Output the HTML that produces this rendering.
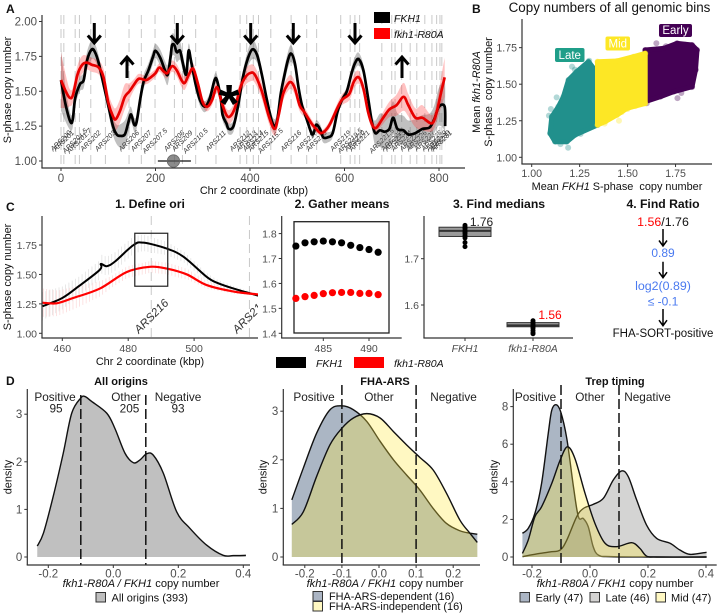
<!DOCTYPE html>
<html>
<head>
<meta charset="utf-8">
<title>Chromosome 2 copy number figure</title>
<style>
html,body{margin:0;padding:0;background:#fff;width:720px;height:615px;overflow:hidden}
svg{display:block;filter:blur(0.35px)}
text{font-family:"Liberation Sans",sans-serif;fill:#111}
.b{font-weight:bold}
.i{font-style:italic}
.t{font-size:12.2px;font-weight:bold;text-anchor:middle}
.td{font-size:11px;font-weight:bold;text-anchor:middle}
.at{font-size:10.9px;text-anchor:middle}
.dt{font-size:11.1px;text-anchor:middle}
.n{font-size:11.8px;text-anchor:middle;fill:#222}
.lg{font-size:11px}
.lg2{font-size:10.9px}
.panel{font-size:12px;font-weight:bold}
</style>
</head>
<body>
<svg id="fig" xmlns="http://www.w3.org/2000/svg" width="720" height="615" viewBox="0 0 720 615">
<rect x="0" y="0" width="720" height="615" fill="#fff"/>
<defs>
<clipPath id="clipC1"><rect x="42" y="210" width="216" height="128"/></clipPath>
</defs>

<g id="panelA"></g>
<g id="panelB"></g>
<g id="panelC1"></g>
<g id="panelC2"></g>
<g id="panelC3"></g>
<g id="panelD1"></g>
<g id="panelD2"></g>
<g id="panelD3"></g>

<text class="panel" x="6" y="13">A</text>
<text class="panel" x="472" y="13">B</text>
<text class="panel" x="6" y="211">C</text>
<text class="panel" x="6" y="385">D</text>

<!-- Panel A static -->
<text class="at" x="254" y="194">Chr 2 coordinate (kbp)</text>
<text class="at" transform="translate(11,90) rotate(-90)">S-phase copy number</text>
<rect x="374" y="12" width="16" height="11" fill="#000"/>
<rect x="374" y="28" width="16" height="11" fill="#f00"/>
<text class="i" x="394" y="22" font-size="10.5">FKH1</text>
<text class="i" x="394" y="38" font-size="10.5">fkh1-R80A</text>

<!-- Panel B static -->
<text x="609.500" y="12" font-size="13.4" text-anchor="middle">Copy numbers of all genomic bins</text>
<text class="at" x="617" y="190">Mean <tspan class="i">FKH1</tspan> S-phase&#160; copy number</text>
<text class="at" transform="translate(480,92) rotate(-90)">Mean <tspan class="i">fkh1-R80A</tspan></text>
<text class="at" transform="translate(492,92) rotate(-90)">S-phase&#160; copy number</text>

<!-- Panel C static -->
<text class="t" x="150" y="208">1. Define ori</text>
<text class="t" x="342" y="208">2. Gather means</text>
<text class="t" x="499" y="208">3. Find medians</text>
<text class="t" x="663" y="208">4. Find Ratio</text>
<text class="at" x="150" y="365">Chr 2 coordinate (kbp)</text>
<text class="at" transform="translate(11,277) rotate(-90)">S-phase copy number</text>
<rect x="276" y="357" width="30" height="11" fill="#000"/>
<rect x="354" y="357" width="30" height="11" fill="#f00"/>
<text class="i" x="316" y="367" font-size="10.5">FKH1</text>
<text class="i" x="394" y="367" font-size="10.5">fkh1-R80A</text>
<text x="481.5" y="226" font-size="12" style="fill:#222" text-anchor="middle">1.76</text>
<text x="550" y="319" font-size="12" style="fill:#f00" text-anchor="middle">1.56</text>
<text x="663" y="226" font-size="12.4" text-anchor="middle"><tspan style="fill:#f00">1.56</tspan><tspan>/1.76</tspan></text>
<text x="663" y="257" font-size="12" text-anchor="middle" style="fill:#4a7af0">0.89</text>
<text x="663" y="290" font-size="12.4" text-anchor="middle" style="fill:#4a7af0">log2(0.89)</text>
<text x="663" y="305.500" font-size="12" text-anchor="middle" style="fill:#4a7af0">≤ -0.1</text>
<text x="663" y="337" font-size="11.5" text-anchor="middle">FHA-SORT-positive</text>

<!-- Panel D static -->
<text class="td" x="121" y="385">All origins</text>
<text class="td" x="385" y="385">FHA-ARS</text>
<text class="td" x="615" y="385">Trep timing</text>

<text class="n" x="55" y="401">Positive</text>
<text class="n" x="56" y="412.500">95</text>
<text class="n" x="126" y="401">Other</text>
<text class="n" x="129.500" y="412.500">205</text>
<text class="n" x="178" y="401">Negative</text>
<text class="n" x="178" y="412.500">93</text>

<text class="n" x="314" y="401">Positive</text>
<text class="n" x="379" y="401">Other</text>
<text class="n" x="453.500" y="401">Negative</text>

<text class="n" x="535.500" y="401">Positive</text>
<text class="n" x="590" y="401">Other</text>
<text class="n" x="647.500" y="401">Negative</text>

<text class="dt" x="141" y="587"><tspan class="i">fkh1-R80A / FKH1</tspan> copy number</text>
<text class="dt" x="385" y="587"><tspan class="i">fkh1-R80A / FKH1</tspan> copy number</text>
<text class="dt" x="615" y="587"><tspan class="i">fkh1-R80A / FKH1</tspan> copy number</text>
<text class="at" transform="translate(11.500,477) rotate(-90)">density</text>
<text class="at" transform="translate(266.500,477) rotate(-90)">density</text>
<text class="at" transform="translate(497.500,477) rotate(-90)">density</text>

<rect x="96" y="592.500" width="9.500" height="9.500" fill="#bebebe" stroke="#333"/>
<text class="lg" x="111.500" y="601.500">All origins (393)</text>

<rect x="313" y="591.500" width="9.500" height="9.500" fill="#abb5c4" stroke="#333"/>
<rect x="313" y="601.500" width="9.500" height="9.500" fill="#fff8c2" stroke="#333"/>
<text class="lg2" x="329" y="600">FHA-ARS-dependent (16)</text>
<text class="lg2" x="329" y="610">FHA-ARS-independent (16)</text>

<rect x="520" y="592.500" width="9.500" height="9.500" fill="#abb5c4" stroke="#333"/>
<rect x="590" y="592.500" width="9.500" height="9.500" fill="#d4d3d2" stroke="#333"/>
<rect x="656" y="592.500" width="9.500" height="9.500" fill="#fff8c2" stroke="#333"/>
<text class="lg" x="535.500" y="601.500">Early (47)</text>
<text class="lg" x="605.500" y="601.500">Late (46)</text>
<text class="lg" x="671" y="601.500">Mid (47)</text>
</svg>

<script>
// ---------- Panel A data ----------
const aXTicks = [0, 200, 400, 600, 800];
const aYTicks = [1.00, 1.25, 1.50, 1.75, 2.00];
const arsNames = ["ARS200","ARS201","ARS201.5","ARS201.7","ARS202","ARS203","ARS206","ARS207","ARS207.5","ARS208","ARS209","ARS210.5","ARS211","ARS212","ARS213","ARS214","ARS215","ARS215.5","ARS216","ARS217","ARS218","ARS219","ARS219.5","ARS220","ARS221","ARS221.5","ARS222","ARS223","ARS224","ARS225","ARS226","ARS227","ARS228","ARS229","ARS230","ARS231"];
const arsKb = [0,6,30,39,63,94,144,170,199,240,257,285,328,379,393,407,418,444,487,520,541,592,612,622,632,679,700,707,721,739,753,770,785,795,802,806];
const blackKb = [0,10,20,25,30,40,48,55,65,72,80,90,100,110,118,125,135,142,147,150,155,160,168,175,185,195,200,210,220,226,232,235,240,245,252,258,265,270,275,285,295,305,315,325,330,338,342,350,355,365,375,385,395,405,415,425,435,445,452,458,465,472,480,487,495,503,510,520,530,535,540,548,555,565,575,585,595,605,615,622,630,640,650,658,665,675,685,695,703,712,725,735,750,765,780,790,800,812,813];
const blackCN = [1.58,1.40,1.28,1.30,1.45,1.55,1.58,1.72,1.80,1.78,1.70,1.55,1.40,1.25,1.19,1.18,1.19,1.27,1.33,1.32,1.26,1.28,1.45,1.57,1.65,1.75,1.79,1.74,1.65,1.62,1.75,1.83,1.83,1.78,1.79,1.70,1.62,1.79,1.72,1.55,1.43,1.39,1.45,1.58,1.58,1.45,1.33,1.27,1.23,1.25,1.40,1.60,1.73,1.80,1.76,1.62,1.45,1.30,1.25,1.30,1.48,1.60,1.72,1.77,1.70,1.52,1.40,1.30,1.20,1.20,1.26,1.23,1.17,1.17,1.20,1.35,1.44,1.50,1.63,1.70,1.73,1.65,1.45,1.28,1.20,1.22,1.21,1.23,1.31,1.23,1.22,1.19,1.20,1.23,1.24,1.30,1.39,1.39,1.25];
const redKb = [0,10,18,25,35,45,55,65,80,90,100,110,116,125,135,145,155,165,180,190,200,208,218,225,235,245,255,262,272,280,290,300,310,320,330,340,350,358,368,380,390,400,410,425,440,452,460,470,480,487,495,505,515,530,540,550,560,570,585,595,610,620,630,640,650,660,668,680,695,710,725,735,750,765,785,795,805,812];
const redCN = [1.58,1.50,1.455,1.47,1.62,1.69,1.705,1.69,1.67,1.60,1.42,1.32,1.30,1.36,1.46,1.50,1.55,1.59,1.58,1.60,1.63,1.67,1.64,1.63,1.68,1.65,1.58,1.56,1.63,1.66,1.55,1.42,1.39,1.44,1.53,1.42,1.33,1.32,1.38,1.53,1.60,1.63,1.62,1.50,1.32,1.23,1.32,1.48,1.55,1.565,1.52,1.40,1.35,1.27,1.23,1.20,1.22,1.27,1.38,1.44,1.48,1.57,1.60,1.52,1.35,1.25,1.24,1.30,1.37,1.40,1.46,1.40,1.31,1.31,1.27,1.35,1.50,1.60];
const blackBandKb = [0,10,20,40,65,90,118,135,150,170,200,235,270,300,330,355,380,405,430,452,487,510,535,560,590,625,655,670,700,730,760,790,812];
const blackBandHalf = [.22,.12,.06,.05,.07,.04,.07,.10,.05,.05,.05,.08,.05,.04,.04,.04,.04,.07,.03,.05,.06,.02,.03,.04,.02,.05,.03,.12,.12,.10,.10,.10,.18];
const redBandKb = [0,10,20,40,55,80,116,135,150,180,210,260,300,358,400,452,487,550,620,668,700,725,745,765,790,812];
const redBandHalf = [.20,.12,.05,.07,.05,.05,.08,.09,.04,.03,.03,.05,.03,.05,.06,.05,.05,.02,.05,.03,.06,.10,.06,.09,.05,.14];
const cenStart = 205, cenEnd = 275, cenMid = 238;

// ---------- Panel B data ----------
const bXTicks = [1.00, 1.25, 1.50, 1.75];
const bYTicks = [1.00, 1.25, 1.50, 1.75];
const lateX = [1.296,1.235,1.192,1.166,1.139,1.105,1.096,1.122,1.183,1.226,1.343,1.345,1.343];
const lateY = [1.654,1.586,1.529,1.415,1.346,1.278,1.164,1.107,1.107,1.153,1.221,1.392,1.574];
const midX = [1.343,1.444,1.531,1.592,1.592,1.497,1.444,1.383,1.343];
const midY = [1.654,1.659,1.688,1.711,1.369,1.335,1.289,1.244,1.221];
const earlyX = [1.592,1.688,1.758,1.836,1.862,1.854,1.836,1.740,1.671,1.592];
const earlyY = [1.734,1.745,1.780,1.768,1.734,1.597,1.483,1.449,1.415,1.381];
const lateOutX = [1.09,1.13,1.185,1.19,1.30,1.255,1.15,1.12,1.10,1.225,1.21];
const lateOutY = [1.285,1.41,1.122,1.065,1.66,1.16,1.09,1.13,1.33,1.60,1.62];
const midOutX = [1.38,1.455,1.42,1.50,1.54,1.47,1.40];
const midOutY = [1.23,1.25,1.29,1.33,1.35,1.31,1.27];
const earlyOutX = [1.835,1.76,1.855,1.65,1.70,1.62,1.80,1.72,1.61,1.78,1.64,1.60,1.86];
const earlyOutY = [1.48,1.405,1.60,1.78,1.76,1.40,1.77,1.47,1.73,1.44,1.41,1.37,1.73];

// ---------- Panel C data ----------
const c1XTicks = [460, 480, 500];
const c1YTicks = [1.00, 1.25, 1.50, 1.75];
const c1BlackKb = [454,460,465,471.4,471.7,473.5,476,481.6,484.6,491.7,496.8,503.8,506.9,512,519.5];
const c1BlackCN = [1.23,1.30,1.40,1.54,1.59,1.57,1.61,1.75,1.77,1.72,1.65,1.48,1.43,1.38,1.32];
const c1RedKb = [454,458.3,463.3,471.4,479.5,486.6,491.7,497.8,503.8,512,519.5];
const c1RedCN = [1.26,1.255,1.30,1.38,1.52,1.565,1.55,1.50,1.41,1.355,1.33];
const c1SdKb = [454,465,475,485,495,505,519.5];
const c1BlackSd = [.12,.08,.08,.07,.05,.03,.01];
const c1RedSd = [.12,.09,.05,.05,.05,.03,.01];
const c1Ars = ["ARS216","ARS217"];
const c1ArsKb = [487,516.8];
const c1Window = [482, 492];
const c1WindowCN = [1.40, 1.85];

const c2XTicks = [485, 490];
const c2YTicks = [1.4, 1.5, 1.6, 1.7, 1.8];
const c2Kb = [482,483,484,485,486,487,488,489,490,491];
const c2Black = [1.75,1.763,1.767,1.77,1.767,1.763,1.753,1.744,1.736,1.725];
const c2Red = [1.54,1.547,1.552,1.559,1.563,1.564,1.564,1.56,1.56,1.555];

const c3YTicks = [1.6, 1.7];
const c3Groups = ["FKH1", "fkh1-R80A"];
const c3BoxBlack = [1.748, 1.76, 1.768];
const c3BoxRed = [1.553, 1.556, 1.562];
const c3PointsBlack = [1.772,1.768,1.765,1.76,1.757,1.755,1.75,1.745,1.735,1.726];
const c3PointsRed = [1.566,1.562,1.56,1.556,1.553,1.55,1.545,1.54,1.538];

// ---------- Panel D data ----------
const d1XTicks = [-0.2, 0.0, 0.2, 0.4];
const d1YTicks = [0, 1, 2, 3];
const d1V = [-.234,-.215,-.185,-.154,-.128,-.1,-.087,-.067,-.02,.005,.036,.062,.082,.103,.123,.154,.195,.236,.287,.338,.369,.408];
const d1D = [.23,.5,1.27,2.18,3.02,3.34,3.37,3.27,3.02,2.7,2.18,1.98,2.04,2.17,2.14,1.76,.95,.6,.25,.035,.03,.035];

const d2XTicks = [-0.2, -0.1, 0.0, 0.1, 0.2];
const d2YTicks = [0, 1, 2, 3];
const d2V = [-.235,-.204,-.168,-.132,-.1,-.069,-.033,.003,.039,.074,.11,.146,.182,.218,.245,.265];
const d2Dep = [1.175,1.83,2.55,3.03,3.11,3.03,2.79,2.38,2,1.69,1.38,1,.69,.54,.49,.47];
const d2Ind = [.67,.93,1.66,2.31,2.65,2.86,2.95,2.86,2.58,2.31,2.05,1.79,1.31,.76,.49,.30];

const d3XTicks = [-0.2, 0.0, 0.2, 0.4];
const d3YTicks = [0, 2, 4, 6, 8];
const d3EarlyV = [-.233,-.213,-.19,-.167,-.144,-.132,-.117,-.101,-.08,-.057,-.04,-.023,-.006,.011,.029,.069,.2,.402];
const d3EarlyD = [1.26,1.52,2.32,3.91,6.57,7.8,8.1,7.72,6.3,3.73,2.14,2.05,1.61,.55,.1,.02,0,0];
const d3LateV = [-.233,-.184,-.138,-.103,-.08,-.046,-.023,.011,.046,.08,.109,.132,.161,.195,.23,.276,.31,.345,.402];
const d3LateD = [.02,.16,.27,.37,.9,2.14,2.58,2.8,3.12,4.09,4.58,4.27,3.03,1.7,.99,.73,.37,.14,.25];
const d3MidV = [-.233,-.213,-.19,-.167,-.132,-.103,-.078,-.052,-.017,.017,.052,.092,.144,.172,.195,.23,.402];
const d3MidD = [.19,.9,2.14,2.67,3.91,5.15,5.86,5.24,3.38,1.79,.73,.55,.76,.46,.05,0,0];

const classCuts = [-0.1, 0.1];

// ---------- Helpers ----------
const NS = 'http://www.w3.org/2000/svg';
function mk(parent, tag, attrs, text) {
  const e = document.createElementNS(NS, tag);
  for (const k in attrs) e.setAttribute(k, attrs[k]);
  if (text !== undefined) e.textContent = text;
  parent.appendChild(e);
  return e;
}
function smooth(pts) {
  let d = 'M' + pts[0][0].toFixed(2) + ' ' + pts[0][1].toFixed(2);
  d += smoothTail(pts);
  return d;
}
function smoothTail(pts) {
  let d = '';
  for (let i = 0; i < pts.length - 1; i++) {
    const p0 = pts[Math.max(0, i - 1)], p1 = pts[i], p2 = pts[i + 1], p3 = pts[Math.min(pts.length - 1, i + 2)];
    const c1x = p1[0] + (p2[0] - p0[0]) / 6, c1y = p1[1] + (p2[1] - p0[1]) / 6;
    const c2x = p2[0] - (p3[0] - p1[0]) / 6, c2y = p2[1] - (p3[1] - p1[1]) / 6;
    d += 'C' + c1x.toFixed(2) + ' ' + c1y.toFixed(2) + ' ' + c2x.toFixed(2) + ' ' + c2y.toFixed(2) + ' ' + p2[0].toFixed(2) + ' ' + p2[1].toFixed(2);
  }
  return d;
}
function lerp(xs, ys, x) {
  if (x <= xs[0]) return ys[0];
  for (let i = 1; i < xs.length; i++) {
    if (x <= xs[i]) return ys[i - 1] + (ys[i] - ys[i - 1]) * (x - xs[i - 1]) / (xs[i] - xs[i - 1]);
  }
  return ys[ys.length - 1];
}
function drawAxes(g, c) {
  const yAxis = mk(g, 'line', {x1: c.left, x2: c.left, y1: c.top, y2: c.bottom, stroke: '#333', 'stroke-width': 1.2});
  
  
  const xAxis = mk(g, 'line', {x1: c.left - .6, x2: c.right, y1: c.bottom, y2: c.bottom, stroke: '#333', 'stroke-width': 1.2});
  
  
  c.xTicks.forEach(function (v) {
    const x = c.sx(v);
    const tk = mk(g, 'line', {x1: x, x2: x, y1: c.bottom, y2: c.bottom + 3, stroke: '#333', 'stroke-width': 1});
    
    
    const lb = mk(g, 'text', {x: x, y: c.bottom + c.xOff, 'text-anchor': 'middle', 'font-size': c.fs, style: 'fill:#4d4d4d'}, v.toFixed(c.xDec));
    
    
  });
  c.yTicks.forEach(function (v) {
    const y = c.sy(v);
    const tk = mk(g, 'line', {x1: c.left - 3, x2: c.left, y1: y, y2: y, stroke: '#333', 'stroke-width': 1});
    
    
    const lb = mk(g, 'text', {x: c.left - 5, y: y + 4, 'text-anchor': 'end', 'font-size': c.fs, style: 'fill:#4d4d4d'}, v.toFixed(c.yDec));
    
    
  });
}
function arrowPath(x, y1, y2, h, hh) {
  const dir = y2 > y1 ? -1 : 1;
  return 'M' + x + ' ' + y1 + 'L' + x + ' ' + y2 + 'M' + (x - h) + ' ' + (y2 + dir * hh) + 'L' + x + ' ' + y2 + 'L' + (x + h) + ' ' + (y2 + dir * hh);
}

// ---------- Panel A ----------
(function () {
  const g = document.getElementById('panelA');
  const sx = function (k) { return 61 + 0.4725 * k; };
  const sy = function (v) { return 161 - 139.5 * (v - 1); };
  arsKb.forEach(function (k, i) {
    const ln = mk(g, 'line', {x1: sx(k), x2: sx(k), y1: 15, y2: 168, stroke: '#c9c9c9', 'stroke-width': 1, 'stroke-dasharray': '9 5'});
    
    
    const lb = mk(g, 'text', {x: sx(k), y: 143, 'text-anchor': 'middle', 'font-size': 7, class: 'i', style: 'fill:#333', transform: 'rotate(-45 ' + sx(k) + ' 141)'}, arsNames[i]);
    
    
  });
  drawAxes(g, {left: 42, right: 465, top: 15, bottom: 168, sx: sx, sy: sy, xTicks: aXTicks, yTicks: aYTicks, xOff: 14, fs: 11.5, xDec: 0, yDec: 2});

  function band(xs, ys, bx, bh, fill, name) {
    const up = xs.map(function (k, i) { return [sx(k), sy(ys[i] + lerp(bx, bh, k))]; });
    const lo = xs.map(function (k, i) { return [sx(k), sy(ys[i] - lerp(bx, bh, k))]; }).reverse();
    const b = mk(g, 'path', {d: smooth(up) + 'L' + lo[0][0].toFixed(2) + ' ' + lo[0][1].toFixed(2) + smoothTail(lo) + 'Z', fill: fill});
    
    
  }
  band(blackKb, blackCN, blackBandKb, blackBandHalf, 'rgba(90,90,90,.38)', 'fkh1-error-band');
  band(redKb, redCN, redBandKb, redBandHalf, 'rgba(255,50,50,.3)', 'fkh1-r80a-error-band');
  const bl = mk(g, 'path', {d: smooth(blackKb.map(function (k, i) { return [sx(k), sy(blackCN[i])]; })), fill: 'none', stroke: '#000', 'stroke-width': 2.7, 'stroke-linejoin': 'round'});
  
  
  const rd = mk(g, 'path', {d: smooth(redKb.map(function (k, i) { return [sx(k), sy(redCN[i])]; })), fill: 'none', stroke: '#e80000', 'stroke-width': 2.7, 'stroke-linejoin': 'round'});
  
  

  const cl = mk(g, 'line', {x1: sx(cenStart), x2: sx(cenEnd), y1: sy(1), y2: sy(1), stroke: '#111', 'stroke-width': 1.2});
  
  
  const cc = mk(g, 'circle', {cx: sx(cenMid), cy: sy(1), r: 6.2, fill: 'rgba(90,90,90,.7)', stroke: '#666', 'stroke-width': .8});
  
  

  [94.3, 177.3, 250.7, 293.3, 355].forEach(function (x) {
    const a = mk(g, 'path', {d: arrowPath(x, 23, 43, 6.5, 7.5), fill: 'none', stroke: '#000', 'stroke-width': 3});
    
    
  });
  [127, 402].forEach(function (x) {
    const a = mk(g, 'path', {d: arrowPath(x, 78, 57, 6.5, 7.5), fill: 'none', stroke: '#000', 'stroke-width': 3});
    
    
  });
  const st = mk(g, 'text', {x: 229, y: 122, 'text-anchor': 'middle', 'font-size': 54, class: 'b', style: 'fill:#000'}, '*');
  
  
})();

// ---------- Panel B ----------
(function () {
  const g = document.getElementById('panelB');
  const sx = function (v) { return 531.7 + 191.8 * (v - 1); };
  const sy = function (v) { return 157.3 - 146.2 * (v - 1); };
  drawAxes(g, {left: 522, right: 712, top: 19, bottom: 164, sx: sx, sy: sy, xTicks: bXTicks, yTicks: bYTicks, xOff: 13, fs: 10.6, xDec: 2, yDec: 2});
  function cloud(xs, ys, ox, oy, color, name) {
    const pts = xs.map(function (x, i) { return sx(x).toFixed(1) + ',' + sy(ys[i]).toFixed(1); }).join(' ');
    xs.forEach(function (x, i) {
      const c = mk(g, 'circle', {cx: sx(x), cy: sy(ys[i]), r: 3, fill: color, 'fill-opacity': .45});
      
      
    });
    ox.forEach(function (x, i) {
      const c = mk(g, 'circle', {cx: sx(x), cy: sy(oy[i]), r: 3, fill: color, 'fill-opacity': .35});
      
      
    });
    const p = mk(g, 'polygon', {points: pts, fill: color, stroke: color, 'stroke-width': 5, 'stroke-linejoin': 'round'});
    
    
  }
  cloud(lateX, lateY, lateOutX, lateOutY, '#21908c', 'late-bins-cloud');
  cloud(earlyX, earlyY, earlyOutX, earlyOutY, '#440154', 'early-bins-cloud');
  cloud(midX, midY, midOutX, midOutY, '#fde725', 'mid-bins-cloud');
  [['Late', 555, 48, 29.5, 14, '#1f9e89', 'late-label'], ['Mid', 605.5, 36.5, 24.5, 14, '#fde725', 'mid-label'], ['Early', 659, 24, 33, 13, '#440154', 'early-label']].forEach(function (l) {
    const r = mk(g, 'rect', {x: l[1], y: l[2], width: l[3], height: l[4], rx: 2, fill: l[5]});
    
    
    const t = mk(g, 'text', {x: l[1] + l[3] / 2, y: l[2] + l[4] - 3, 'text-anchor': 'middle', 'font-size': 11.5, style: 'fill:#fff'}, l[0]);
    
    
  });
})();

// ---------- Panel C1 ----------
(function () {
  const g = document.getElementById('panelC1');
  const sx = function (k) { return 62.3 + 3.295 * (k - 460); };
  const sy = function (v) { return 333.3 - 117.7 * (v - 1); };
  const clip = mk(g, 'g', {'clip-path': 'url(#clipC1)'});
  
  
  c1ArsKb.forEach(function (k, i) {
    const ln = mk(clip, 'line', {x1: sx(k), x2: sx(k), y1: 216, y2: 338, stroke: '#c9c9c9', 'stroke-width': 1, 'stroke-dasharray': '9 5'});
    
    
    const lb = mk(clip, 'text', {x: sx(k), y: 320, 'text-anchor': 'middle', 'font-size': 11.5, class: 'i', style: 'fill:#333', transform: 'rotate(-45 ' + sx(k) + ' 316)'}, c1Ars[i]);
    
    
  });
  for (let k = 454; k <= 519; k++) {
    const b = lerp(c1BlackKb, c1BlackCN, k), bs = lerp(c1SdKb, c1BlackSd, k);
    const e1 = mk(clip, 'line', {x1: sx(k), x2: sx(k), y1: sy(b - bs), y2: sy(b + bs), stroke: '#e2e2e2', 'stroke-width': .8});
    
    
    const r = lerp(c1RedKb, c1RedCN, k), rs = lerp(c1SdKb, c1RedSd, k);
    const e2 = mk(clip, 'line', {x1: sx(k) + .8, x2: sx(k) + .8, y1: sy(r - rs), y2: sy(r + rs), stroke: '#fcdcdc', 'stroke-width': .8});
    
    
  }
  const bl = mk(clip, 'path', {d: smooth(c1BlackKb.map(function (k, i) { return [sx(k), sy(c1BlackCN[i])]; })), fill: 'none', stroke: '#000', 'stroke-width': 2});
  
  
  const rd = mk(clip, 'path', {d: smooth(c1RedKb.map(function (k, i) { return [sx(k), sy(c1RedCN[i])]; })), fill: 'none', stroke: '#f00', 'stroke-width': 2.2});
  
  
  const box = mk(g, 'rect', {x: sx(c1Window[0]), y: sy(c1WindowCN[1]), width: sx(c1Window[1]) - sx(c1Window[0]), height: sy(c1WindowCN[0]) - sy(c1WindowCN[1]), fill: 'none', stroke: '#222', 'stroke-width': 1.2});
  
  
  drawAxes(g, {left: 42, right: 258, top: 216, bottom: 338, sx: sx, sy: sy, xTicks: c1XTicks, yTicks: c1YTicks, xOff: 14, fs: 10.5, xDec: 0, yDec: 2});
})();

// ---------- Panel C2 ----------
(function () {
  const g = document.getElementById('panelC2');
  const sx = function (k) { return 323.3 + 9.14 * (k - 485); };
  const sy = function (v) { return 333.3 - 249.3 * (v - 1.4); };
  drawAxes(g, {left: 281.7, right: 401.7, top: 216, bottom: 338, sx: sx, sy: sy, xTicks: c2XTicks, yTicks: c2YTicks, xOff: 14, fs: 10.5, xDec: 0, yDec: 1});
  const box = mk(g, 'rect', {x: 294, y: 221.7, width: 95, height: 111.3, fill: 'none', stroke: '#222', 'stroke-width': 1.3});
  
  
  c2Kb.forEach(function (k, i) {
    const a = mk(g, 'circle', {cx: sx(k), cy: sy(c2Black[i]), r: 3.6, fill: '#000'});
    
    
    const b = mk(g, 'circle', {cx: sx(k), cy: sy(c2Red[i]), r: 3.6, fill: '#f00'});
    
    
  });
})();

// ---------- Panel C3 ----------
(function () {
  const g = document.getElementById('panelC3');
  const sy = function (v) { return 258.7 - 463 * (v - 1.7); };
  const sx = function (v) { return v; };
  drawAxes(g, {left: 424, right: 573, top: 216, bottom: 338, sx: sx, sy: sy, xTicks: [], yTicks: c3YTicks, xOff: 14, fs: 10.5, xDec: 0, yDec: 1});
  const groupX = [465, 533];
  const boxes = [c3BoxBlack, c3BoxRed];
  const points = [c3PointsBlack, c3PointsRed];
  c3Groups.forEach(function (name, i) {
    const cx = groupX[i], q = boxes[i];
    const tk = mk(g, 'line', {x1: cx, x2: cx, y1: 338, y2: 341, stroke: '#333'});
    
    
    const lb = mk(g, 'text', {x: cx, y: 352, 'text-anchor': 'middle', 'font-size': 10.5, class: 'i', style: 'fill:#4d4d4d'}, name);
    
    
    const r = mk(g, 'rect', {x: cx - 26, y: sy(q[2]), width: 52, height: sy(q[0]) - sy(q[2]), fill: '#9a9a9a', stroke: '#333', 'stroke-width': 1});
    
    
    const m = mk(g, 'line', {x1: cx - 26, x2: cx + 26, y1: sy(q[1]), y2: sy(q[1]), stroke: '#333', 'stroke-width': 2});
    
    
    points[i].forEach(function (v) {
      const c = mk(g, 'circle', {cx: cx, cy: sy(v), r: 2.5, fill: '#000'});
      
      
    });
  });
})();

// ---------- Panel C4 arrows ----------
(function () {
  const g = mk(document.getElementById('fig'), 'g', {});
  
  
  [[229, 246], [261.7, 277.7], [309, 325.7]].forEach(function (a) {
    const p = mk(g, 'path', {d: arrowPath(663, a[0], a[1], 4, 5.5), fill: 'none', stroke: '#000', 'stroke-width': 1.5});
    
    
  });
})();

// ---------- Panel D ----------
function densityPanel(id, c, series) {
  const g = document.getElementById(id);
  const base = c.sy(0);
  series.forEach(function (s) {
    const pts = s.v.map(function (v, i) { return [c.sx(v), c.sy(s.d[i])]; });
    const area = mk(g, 'path', {d: smooth(pts) + 'L' + pts[pts.length - 1][0].toFixed(2) + ' ' + base + 'L' + pts[0][0].toFixed(2) + ' ' + base + 'Z', fill: s.fill, 'fill-opacity': s.alpha});
    
    
    const line = mk(g, 'path', {d: smooth(pts), fill: 'none', stroke: '#111', 'stroke-width': 1.4});
    
    
  });
  classCuts.forEach(function (v) {
    const l = mk(g, 'line', {x1: c.sx(v), x2: c.sx(v), y1: c.dashTop, y2: c.bottom, stroke: '#111', 'stroke-width': 1.5, 'stroke-dasharray': '10 4'});
    
    
  });
  drawAxes(g, c);
}
densityPanel('panelD1', {left: 27.3, right: 250, top: 389, bottom: 565, dashTop: 395,
  sx: function (v) { return 113.3 + 325 * v; }, sy: function (d) { return 557 - 47.6 * d; },
  xTicks: d1XTicks, yTicks: d1YTicks, xOff: 12.5, fs: 11.5, xDec: 1, yDec: 0},
  [{v: d1V, d: d1D, fill: '#999', alpha: .62, name: 'all-origins'}]);
densityPanel('panelD2', {left: 283.3, right: 480, top: 389, bottom: 565, dashTop: 385,
  sx: function (v) { return 379 + 371 * v; }, sy: function (d) { return 557 - 48.6 * d; },
  xTicks: d2XTicks, yTicks: d2YTicks, xOff: 12.5, fs: 11.5, xDec: 1, yDec: 0},
  [{v: d2V, d: d2Dep, fill: '#00204D', alpha: .33, name: 'fha-ars-dependent'},
   {v: d2V, d: d2Ind, fill: '#FFEA46', alpha: .33, name: 'fha-ars-independent'}]);
densityPanel('panelD3', {left: 513.3, right: 716.7, top: 389, bottom: 565, dashTop: 385,
  sx: function (v) { return 590 + 290 * v; }, sy: function (d) { return 557 - 18.8 * d; },
  xTicks: d3XTicks, yTicks: d3YTicks, xOff: 12.5, fs: 11.5, xDec: 1, yDec: 0},
  [{v: d3EarlyV, d: d3EarlyD, fill: '#00204D', alpha: .33, name: 'early'},
   {v: d3LateV, d: d3LateD, fill: '#7C7B78', alpha: .33, name: 'late'},
   {v: d3MidV, d: d3MidD, fill: '#FFEA46', alpha: .33, name: 'mid'}]);
</script>
</body>
</html>
